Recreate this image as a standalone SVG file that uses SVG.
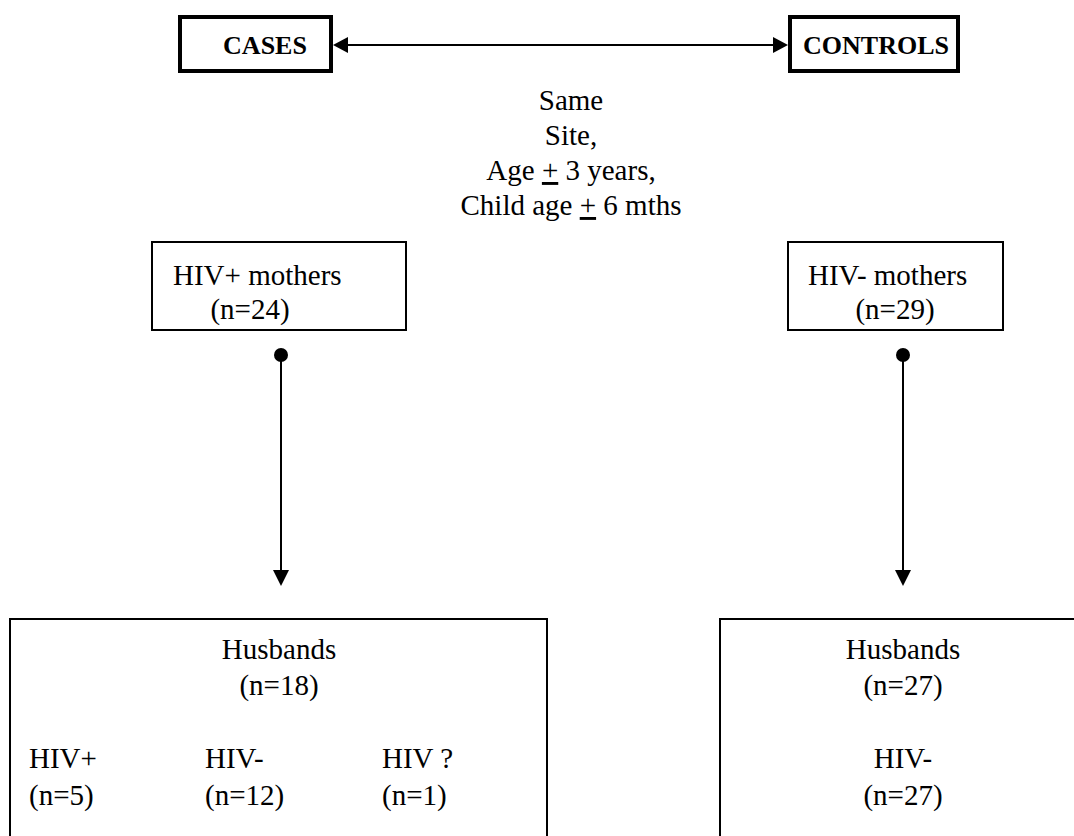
<svg xmlns="http://www.w3.org/2000/svg" width="1074" height="836" viewBox="0 0 1074 836">
<style>
text{font-family:"Liberation Serif","Times New Roman",serif;font-size:29px;fill:#000}
.b{font-weight:bold;font-size:26px}
.box{fill:#fff;stroke:#000;stroke-width:2}
.thick{fill:#fff;stroke:#000;stroke-width:4}
.ln{stroke:#000;stroke-width:2;fill:none}
.ah{fill:#000}
</style>
<g id="connectors">
<line class="ln" x1="345" y1="45" x2="776" y2="45" stroke-width="3"/>
<polygon class="ah" points="333,45 348,37 348,53"/>
<polygon class="ah" points="788,45 773,37 773,53"/>
<circle cx="281" cy="355" r="7" fill="#000"/>
<line class="ln" x1="281" y1="355" x2="281" y2="572"/>
<polygon class="ah" points="281,586 273,570 289,570"/>
<circle cx="903" cy="355" r="7" fill="#000"/>
<line class="ln" x1="903" y1="355" x2="903" y2="572"/>
<polygon class="ah" points="903,586 895,570 911,570"/>
</g>
<g id="cases">
<rect class="thick" x="180" y="17" width="151" height="54"/>
<text class="b" x="265" y="54" text-anchor="middle">CASES</text>
</g>
<g id="controls">
<rect class="thick" x="790" y="17" width="168" height="54"/>
<text class="b" x="876" y="54" text-anchor="middle">CONTROLS</text>
</g>
<g id="matching">
<text x="571" y="110" text-anchor="middle">Same</text>
<text x="571" y="145" text-anchor="middle">Site,</text>
<text x="571" y="180" text-anchor="middle">Age <tspan text-decoration="underline">+</tspan> 3 years,</text>
<text x="571" y="215" text-anchor="middle">Child age <tspan text-decoration="underline">+</tspan> 6 mths</text>
</g>
<g id="hivpos-mothers">
<rect class="box" x="152" y="242" width="254" height="88"/>
<text x="173" y="285">HIV+ mothers</text>
<text x="250" y="319" text-anchor="middle">(n=24)</text>
</g>
<g id="hivneg-mothers">
<rect class="box" x="788" y="242" width="215" height="88"/>
<text x="808" y="285">HIV- mothers</text>
<text x="895" y="319" text-anchor="middle">(n=29)</text>
</g>
<g id="husbands-cases">
<rect class="box" x="10" y="619" width="537" height="240"/>
<text x="279" y="659" text-anchor="middle">Husbands</text>
<text x="279" y="695" text-anchor="middle">(n=18)</text>
<text x="29" y="768">HIV+</text>
<text x="29" y="805">(n=5)</text>
<text x="205" y="768">HIV-</text>
<text x="205" y="805">(n=12)</text>
<text x="382" y="768">HIV ?</text>
<text x="382" y="805">(n=1)</text>
</g>
<g id="husbands-controls">
<rect class="box" x="720" y="619" width="370" height="240"/>
<text x="903" y="659" text-anchor="middle">Husbands</text>
<text x="903" y="695" text-anchor="middle">(n=27)</text>
<text x="903" y="768" text-anchor="middle">HIV-</text>
<text x="903" y="805" text-anchor="middle">(n=27)</text>
</g>
</svg>
